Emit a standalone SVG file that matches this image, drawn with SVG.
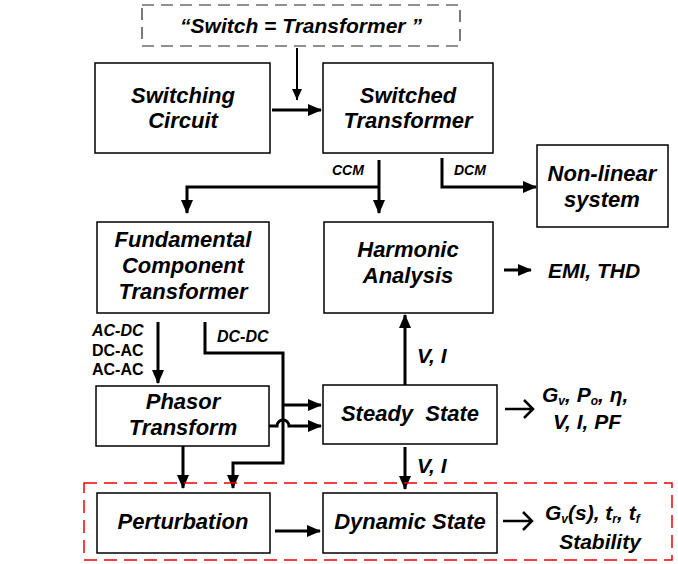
<svg xmlns="http://www.w3.org/2000/svg" width="678" height="564" viewBox="0 0 678 564">
<defs>
<marker id="ah" markerUnits="userSpaceOnUse" markerWidth="14" markerHeight="14" refX="13" refY="7" orient="auto">
<path d="M0,1 L14,7 L0,13 Z" fill="#000"/>
</marker>
<marker id="ahs" markerUnits="userSpaceOnUse" markerWidth="12" markerHeight="12" refX="11" refY="6" orient="auto">
<path d="M0,1 L11,6 L0,11 Z" fill="#000"/>
</marker>
<style>
.box{fill:#fff;stroke:#000;stroke-width:1.5}
.t{font-family:"Liberation Sans",Arial,sans-serif;font-weight:bold;font-style:italic;font-size:22px;fill:#000;text-anchor:middle}
.o{font-family:"Liberation Sans",Arial,sans-serif;font-weight:bold;font-style:italic;font-size:21px;fill:#000}
.s{font-family:"Liberation Sans",Arial,sans-serif;font-weight:bold;font-size:16px;fill:#000}
.c{fill:none;stroke:#000;stroke-width:3}
</style>
</defs>
<rect width="678" height="564" fill="#fff"/>
<g id="connectors">
<path d="M297,48 V100" fill="none" stroke="#000" stroke-width="2" marker-end="url(#ahs)"/>
<path class="c" d="M272,110 H321" marker-end="url(#ah)"/>
<path class="c" d="M379,160 V213" marker-end="url(#ah)"/>
<path class="c" d="M379,187 H187 V213" marker-end="url(#ah)"/>
<path class="c" d="M442,158 V187 H536" marker-end="url(#ah)"/>
<path class="c" d="M504,270 H531" marker-end="url(#ah)"/>
<path class="c" d="M158,322 V383" marker-end="url(#ah)"/>
<path class="c" d="M205,322 V353 H283 V463 H233 V488" marker-end="url(#ah)"/>
<path class="c" d="M283,405 H321" marker-end="url(#ah)"/>
<path class="c" d="M269,426 H277 A6,6 0 0 1 289,426 H321" marker-end="url(#ah)"/>
<path class="c" d="M183,446 V488" marker-end="url(#ah)"/>
<path class="c" d="M405,385 V315" marker-end="url(#ah)"/>
<path class="c" d="M405,447 V489" marker-end="url(#ah)"/>
<path class="c" d="M275,531 H320" marker-end="url(#ah)"/>
<path d="M505,409 H532 M524,400 L533,409 L524,418" fill="none" stroke="#000" stroke-width="2.5"/>
<path d="M503,521 H531 M523,512 L532,521 L523,530" fill="none" stroke="#000" stroke-width="2.5"/>
</g>
<g id="top-label">
<rect x="142" y="5" width="318" height="41" fill="none" stroke="#222" stroke-width="1.2" stroke-dasharray="12,7"/>
<text class="t" x="301" y="33" style="font-size:21px">“Switch = Transformer ”</text>
</g>
<g id="switching-circuit">
<rect class="box" x="95" y="63" width="175" height="90"/>
<text class="t" x="183" y="103">Switching</text>
<text class="t" x="183" y="128">Circuit</text>
</g>
<g id="switched-transformer">
<rect class="box" x="323" y="63" width="170" height="90"/>
<text class="t" x="408" y="103">Switched</text>
<text class="t" x="408" y="128">Transformer</text>
</g>
<g id="non-linear">
<rect class="box" x="537" y="145" width="131" height="82"/>
<text class="t" x="602" y="181">Non-linear</text>
<text class="t" x="602" y="207">system</text>
</g>
<g id="fundamental">
<rect class="box" x="97" y="222" width="172" height="91"/>
<text class="t" x="183" y="247">Fundamental</text>
<text class="t" x="183" y="273">Component</text>
<text class="t" x="183" y="299">Transformer</text>
</g>
<g id="harmonic">
<rect class="box" x="324" y="222" width="169" height="91"/>
<text class="t" x="408" y="257">Harmonic</text>
<text class="t" x="408" y="283">Analysis</text>
</g>
<g id="phasor">
<rect class="box" x="96" y="386" width="173" height="60"/>
<text class="t" x="183" y="409">Phasor</text>
<text class="t" x="183" y="435">Transform</text>
</g>
<g id="steady">
<rect class="box" x="323" y="385" width="174" height="59"/>
<text class="t" x="410" y="421" xml:space="preserve">Steady  State</text>
</g>
<g id="dynamic-region">
<rect x="84" y="483" width="588" height="77" fill="none" stroke="#e00" stroke-width="1.5" stroke-dasharray="13,7"/>
</g>
<g id="perturbation">
<rect class="box" x="97" y="493" width="173" height="60"/>
<text class="t" x="183" y="529">Perturbation</text>
</g>
<g id="dynamic">
<rect class="box" x="323" y="493" width="174" height="60"/>
<text class="t" x="410" y="529">Dynamic State</text>
</g>
<g id="labels">
<text class="s" x="332" y="175" style="font-style:italic;font-size:14px">CCM</text>
<text class="s" x="454" y="175" style="font-style:italic;font-size:14px">DCM</text>
<text class="s" x="92" y="336" style="font-style:italic">AC-DC</text>
<text class="s" x="92" y="356">DC-AC</text>
<text class="s" x="92" y="375">AC-AC</text>
<text class="s" x="217" y="342" style="font-style:italic">DC-DC</text>
<text class="o" x="417" y="363">V, I</text>
<text class="o" x="417" y="473">V, I</text>
<text class="o" x="548" y="278">EMI, THD</text>
<text class="o" x="542" y="402">G<tspan style="font-size:12px" dy="3">v</tspan><tspan dy="-3">, P</tspan><tspan style="font-size:12px" dy="3">o</tspan><tspan dy="-3">, η,</tspan></text>
<text class="o" x="553" y="429">V, I, PF</text>
<text class="o" x="545" y="520">G<tspan style="font-size:12px" dy="3">v</tspan><tspan dy="-3">(s), t</tspan><tspan style="font-size:12px" dy="3">r</tspan><tspan dy="-3">, t</tspan><tspan style="font-size:12px" dy="3">f</tspan></text>
<text class="o" x="600" y="549" text-anchor="middle">Stability</text>
</g>
</svg>
